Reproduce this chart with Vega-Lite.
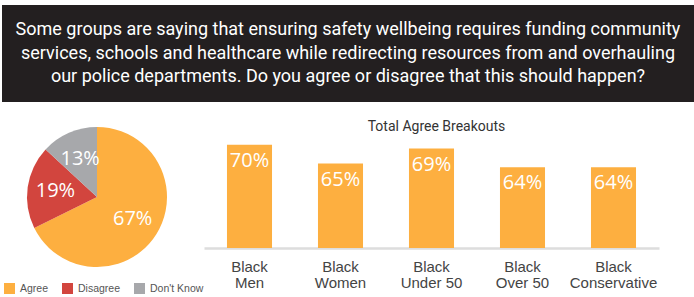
{
  "$schema": "https://vega.github.io/schema/vega-lite/v6.json",
  "padding": {"left": 2, "top": 5, "right": 0, "bottom": 0},
  "background": "white",
  "spacing": 18,
  "config": {"view": {"stroke": null}, "font": "Roboto"},
  "vconcat": [
    {
      "width": 692,
      "height": 97,
      "view": {"fill": "#231F20", "stroke": null},
      "data": {"values": [{"t": "Some groups are saying that ensuring safety wellbeing requires funding community\nservices, schools and healthcare while redirecting resources from and overhauling\nour police departments. Do you agree or disagree that this should happen?"}]},
      "mark": {"type": "text", "lineBreak": "\n", "lineHeight": 23.5, "dy": -23.5, "fontSize": 18, "font": "Roboto", "color": "#FFFFFF", "align": "center", "baseline": "middle"},
      "encoding": {"text": {"field": "t"}}
    },
    {
      "spacing": 12,
      "hconcat": [
        {
          "width": 190,
          "height": 114,
          "data": {"values": [
            {"answer": "Agree", "share": 0.67},
            {"answer": "Disagree", "share": 0.19},
            {"answer": "Don't Know", "share": 0.13}
          ]},
          "encoding": {
            "theta": {"field": "share", "type": "quantitative", "stack": true},
            "order": {"field": "answer", "type": "nominal", "sort": "ascending"}
          },
          "layer": [
            {
              "mark": {"type": "arc", "outerRadius": 70},
              "encoding": {
                "color": {
                  "field": "answer",
                  "type": "nominal",
                  "scale": {"domain": ["Agree", "Disagree", "Don't Know"], "range": ["#FDAF40", "#D2453E", "#A7A8AB"]},
                  "legend": {
                    "title": null,
                    "orient": "none",
                    "direction": "horizontal",
                    "legendX": 2,
                    "legendY": 278,
                    "symbolType": "square",
                    "symbolSize": 121,
                    "symbolStrokeWidth": 0,
                    "labelFont": "Liberation Sans",
                    "labelFontSize": 10.5,
                    "labelColor": "#555555",
                    "labelOffset": 5,
                    "columnPadding": 13
                  }
                }
              }
            },
            {
              "mark": {"type": "text", "radius": 42, "fontSize": 20, "font": "Open Sans", "color": "#FFFFFF"},
              "encoding": {
                "detail": {"field": "answer", "type": "nominal"},
                "text": {"field": "share", "type": "quantitative", "format": ".0%"}
              }
            }
          ]
        },
        {
          "width": 455,
          "height": 108,
          "title": {"text": "Total Agree Breakouts", "fontSize": 14, "font": "Roboto", "fontWeight": "normal", "color": "#333333", "offset": 6, "dx": 5},
          "data": {"values": [
            {"group": "Black Men", "value": 0.70},
            {"group": "Black Women", "value": 0.65},
            {"group": "Black Under 50", "value": 0.69},
            {"group": "Black Over 50", "value": 0.64},
            {"group": "Black Conservative", "value": 0.64}
          ]},
          "encoding": {
            "x": {
              "field": "group",
              "type": "nominal",
              "sort": null,
              "scale": {"paddingInner": 0.505, "paddingOuter": 0.2525},
              "axis": {
                "title": null,
                "ticks": false,
                "labelAngle": 0,
                "domainColor": "#DDDDDD",
                "domainWidth": 2.5,
                "labelFont": "Liberation Sans",
                "labelFontSize": 15,
                "labelColor": "#444444",
                "labelLineHeight": 16,
                "labelPadding": 11,
                "labelExpr": "[slice(datum.label, 0, 5), slice(datum.label, 6)]"
              }
            },
            "y": {
              "field": "value",
              "type": "quantitative",
              "scale": {"domain": [0.424, 0.713], "zero": false, "nice": false},
              "axis": null
            }
          },
          "layer": [
            {
              "mark": {"type": "bar", "color": "#FDAF40"},
              "encoding": {"y2": {"datum": 0.424}}
            },
            {
              "mark": {"type": "text", "baseline": "alphabetic", "dy": 22, "fontSize": 20, "font": "Open Sans", "color": "#FFFFFF"},
              "encoding": {"text": {"field": "value", "type": "quantitative", "format": ".0%"}}
            }
          ]
        }
      ]
    }
  ]
}
